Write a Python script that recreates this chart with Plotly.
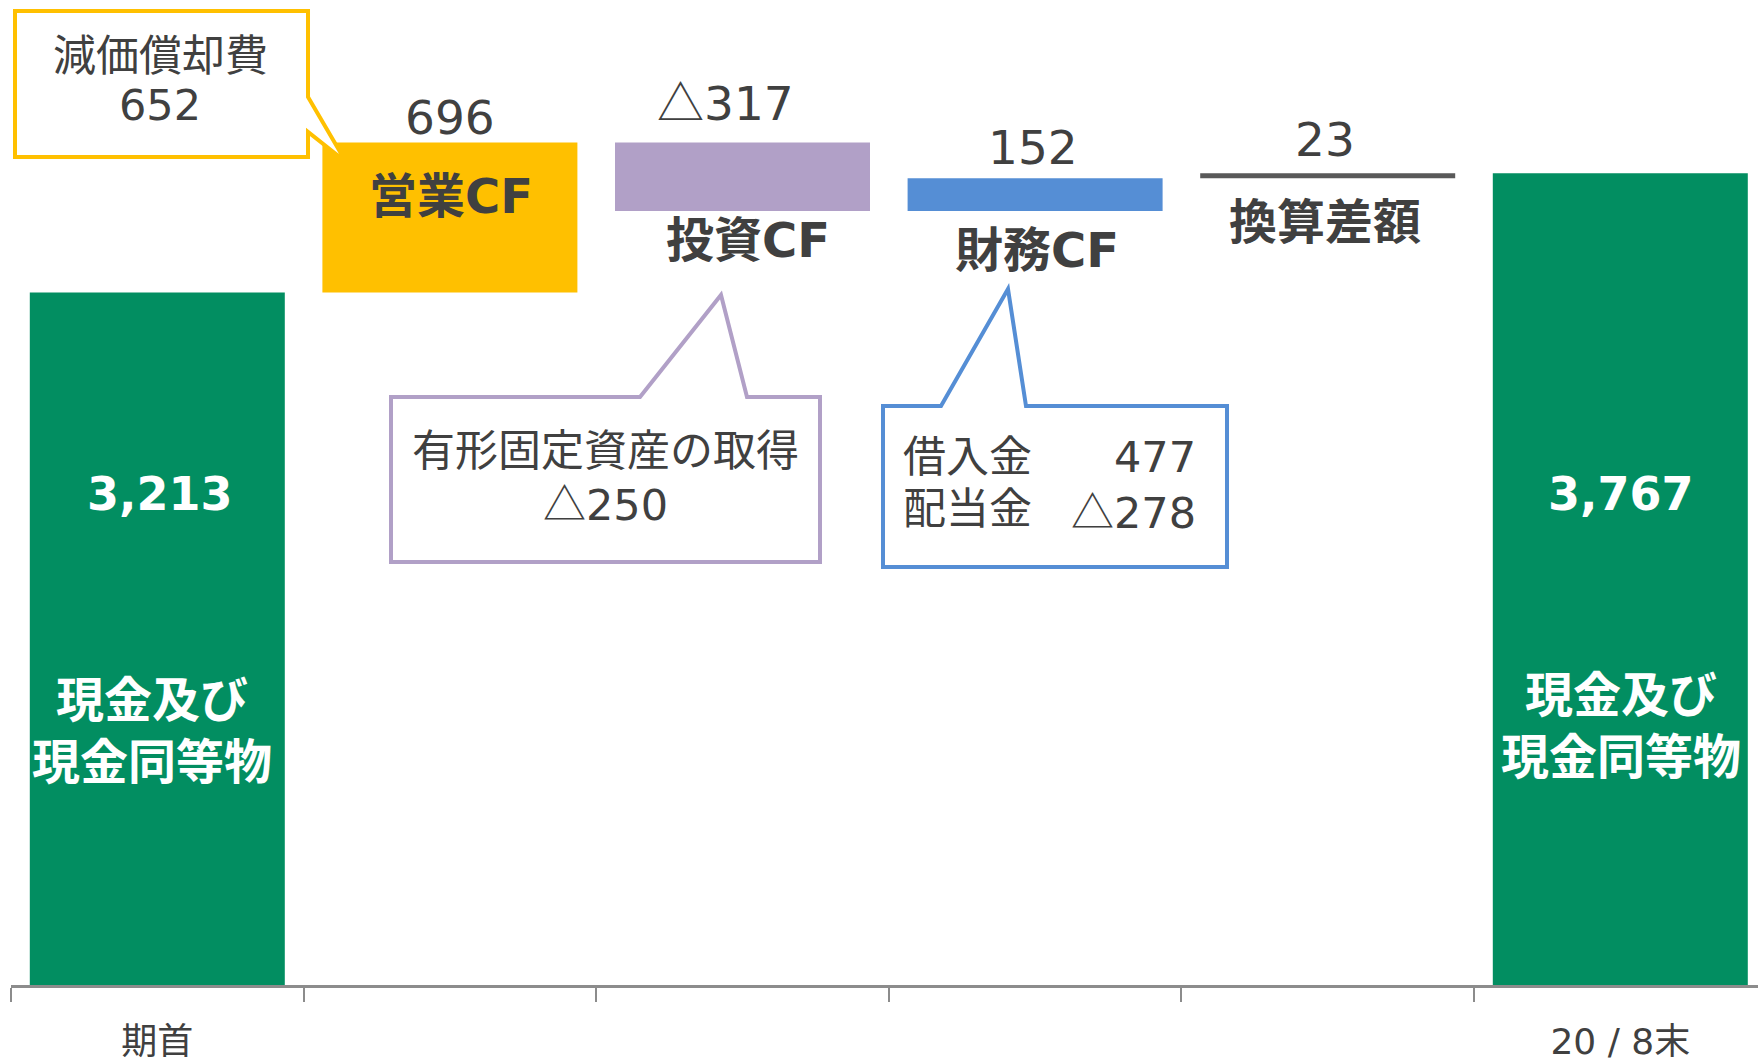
import plotly.graph_objects as go

# ---------------- data ----------------
categories = ["期首", "営業CF", "投資CF", "財務CF", "換算差額", "20 / 8末"]
tick_labels = ["期首", "", "", "", "", "20 / 8末"]
category_titles = ["現金及び<br>現金同等物", "営業CF", "投資CF", "財務CF", "換算差額", "現金及び<br>現金同等物"]
opening_balance = 3213
changes = [696, -317, 152, 23]
closing_balance = 3767
bar_colors = ["#028E61", "#FFC000", "#B1A0C7", "#558ED5", "#595959", "#028E61"]

depreciation_label = "減価償却費"
depreciation = 652
ppe_label = "有形固定資産の取得"
ppe_acquisition = -250
fin_items = ["借入金", "配当金"]
fin_values = [477, -278]

CJK = "Noto Sans CJK JP"


def fmt(v):
    if v >= 0:
        return f"{v:,}"
    return f"<span style='font-family:{CJK}'>△</span>" + f"{-v:,}"


# waterfall geometry from the values
bases = [0]
heights = [opening_balance]
level = opening_balance
for c in changes:
    bases.append(min(level, level + c))
    heights.append(abs(c))
    level += c
bases.append(0)
heights.append(closing_balance)
value_texts = [fmt(opening_balance)] + [fmt(c) for c in changes] + [fmt(closing_balance)]

# ---------------- layout constants ----------------
W, H = 1758, 1064
L, R, T, B = 11, 0, 0, 79
PW, PH = W - L - R, H - T - B
YMAX = PH / 0.2155
CAT_W = 292.6                       # pixel width of one category slot
XMAX = -0.5 + PW / CAT_W            # last slot runs past the right edge

TXT = "#404040"
FONT = "DejaVu Sans, Noto Sans CJK JP"


def px(xp):
    return (xp - L) / PW


def py(yp):
    return (H - B - yp) / PH


def path(points):
    s = "M " + " L ".join(f"{px(a):.5f},{py(b):.5f}" for a, b in points) + " Z"
    return s


fig = go.Figure()
fig.add_trace(go.Bar(
    x=categories, y=heights, base=bases,
    marker=dict(color=bar_colors, line=dict(width=0)),
    width=0.8715, hoverinfo="skip", showlegend=False,
))

ann = []


def text(x, y, s, size, color=TXT, xanchor="center", bold=False):
    ann.append(dict(
        x=px(x), y=py(y), xref="paper", yref="paper", showarrow=False,
        text=f"<b>{s}</b>" if bold else s, xanchor=xanchor, yanchor="middle",
        font=dict(family=FONT, size=size, color=color),
    ))


# value labels
text(160, 494, value_texts[0], 46, "white", bold=True)
text(1621, 494, value_texts[5], 46, "white", bold=True)
text(450, 117, value_texts[1], 47)
text(725, 100, value_texts[2], 47)
text(1033, 147, value_texts[3], 47)
text(1325, 139, value_texts[4], 47)

# category titles
text(152, 731, category_titles[0], 48, "white", bold=True)
text(1621, 726, category_titles[5], 48, "white", bold=True)
text(451, 196, category_titles[1], 48, bold=True)
text(748, 240, category_titles[2], 48, bold=True)
text(1037, 250, category_titles[3], 48, bold=True)
text(1325, 222, category_titles[4], 48, bold=True)

# callouts
shapes = [
    dict(type="path", xref="paper", yref="paper",
         path=path([(15, 11), (308, 11), (308, 97), (346, 162), (308, 132), (308, 157), (15, 157)]),
         line=dict(color="#FFC000", width=4), fillcolor="white", layer="above"),
    dict(type="path", xref="paper", yref="paper",
         path=path([(391, 397), (640, 397), (721, 295), (747, 397), (820, 397), (820, 562), (391, 562)]),
         line=dict(color="#B1A0C7", width=4), fillcolor="white", layer="above"),
    dict(type="path", xref="paper", yref="paper",
         path=path([(883, 406), (941, 406), (1008, 289), (1026, 406), (1227, 406), (1227, 567), (883, 567)]),
         line=dict(color="#558ED5", width=4), fillcolor="white", layer="above"),
]

text(160, 56, depreciation_label, 43)
text(160, 105, fmt(depreciation), 43)
text(605, 451, ppe_label, 43)
text(605, 501, fmt(ppe_acquisition), 43)
text(901, 457, fin_items[0], 43, xanchor="left")
text(1198, 457, fmt(fin_values[0]), 43, xanchor="right")
text(901, 509, fin_items[1], 43, xanchor="left")
text(1198, 509, fmt(fin_values[1]), 43, xanchor="right")

fig.update_layout(
    width=W, height=H, margin=dict(l=L, r=R, t=T, b=B, autoexpand=False),
    paper_bgcolor="white", plot_bgcolor="white",
    annotations=ann, shapes=shapes, bargap=0.124,
    xaxis=dict(
        type="category", tickvals=categories, ticktext=tick_labels,
        tickson="boundaries", ticks="outside", ticklen=14, tickwidth=2,
        tickcolor="#8C8C8C", showline=True, linewidth=3, linecolor="#8C8C8C",
        tickfont=dict(family=FONT, size=36, color=TXT), ticklabelstandoff=23,
        showgrid=False, zeroline=False, range=[-0.5, XMAX], fixedrange=True,
        automargin=False,
    ),
    yaxis=dict(visible=False, range=[0, YMAX], showgrid=False, zeroline=False, fixedrange=True),
)

fig.write_html(
    "out.html",
    config={"displayModeBar": False},
    post_script="document.body.style.margin='0px';document.body.style.overflow='hidden';",
)
